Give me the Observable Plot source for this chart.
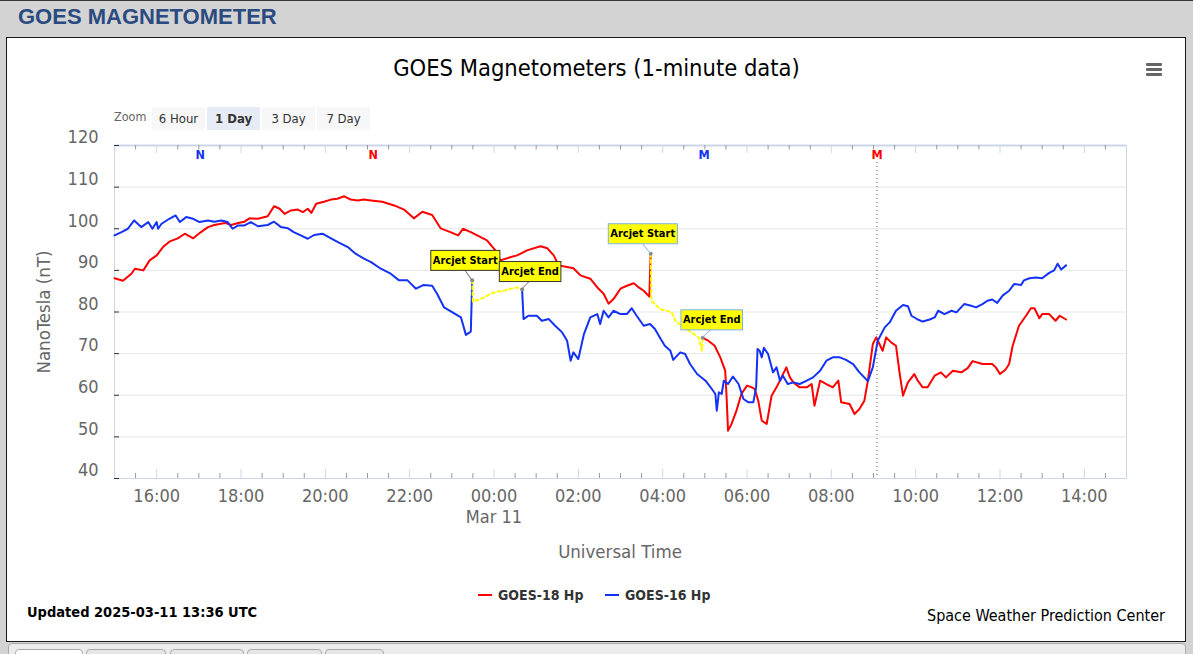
<!DOCTYPE html>
<html><head><meta charset="utf-8">
<script src="https://cdn.jsdelivr.net/npm/d3@7"></script>
<script src="https://cdn.jsdelivr.net/npm/@observablehq/plot@0.6"></script>
<style>
html,body{margin:0;padding:0}
body{width:1193px;height:654px;overflow:hidden;background:#d3d3d3;position:relative;font-family:"DejaVu Sans Condensed","DejaVu Sans",sans-serif;font-stretch:condensed;}
.abs{position:absolute;white-space:nowrap}
#topline{left:0;top:0;width:1193px;height:1px;background:#333}
#hdr{left:18px;top:4px;line-height:28px;font:bold 22px "Liberation Sans",Arial,sans-serif;color:#2a4a80;font-stretch:normal}
#panel{left:6px;top:37px;width:1178px;height:603px;background:#fff;border:1px solid #1a1a1a}
#title{left:0;width:1193px;text-align:center;top:53px;line-height:30px;font-size:23.5px;color:#000}
#menu{left:1146px;top:63px;width:16px}
#menu span{display:block;height:3px;background:#666;margin-bottom:2px;border-radius:1px}
#zoomlab{left:114px;top:109px;line-height:16px;font-size:12.5px;color:#666}
.btn{top:107px;height:23px;width:53px;line-height:23px;text-align:center;font-size:13px;color:#333;background:#f7f7f7}
.btn.sel{background:#e6ebf5;font-weight:bold}
#chart{left:7px;top:130px}
#ylab{left:43px;top:312px;transform:translate(-50%,-50%) rotate(-90deg);font-size:18.5px;color:#666}
#xlab{left:620px;top:551px;transform:translate(-50%,-50%);font-size:18.5px;color:#666}
.leg{top:586px;line-height:18px;font-size:14px;font-weight:bold;color:#333}
.sw{display:inline-block;width:14px;height:2px;vertical-align:middle;margin-right:6px;position:relative;top:-1px}
#updated{left:27px;top:603px;line-height:18px;font-size:14.5px;font-weight:bold;color:#000}
#credit{right:28px;top:607px;line-height:18px;font-size:16px;color:#000}
#tabbox{left:8px;top:643px;width:1176px;height:20px;background:#ececec;border:1px solid #aaa;border-radius:4px}
.tab{top:649px;height:14px;background:#e6e6e6;border:1px solid #aaa;border-radius:4px 4px 0 0}
.tab.on{background:#fff}
</style></head><body>
<div id="topline" class="abs"></div>
<div id="hdr" class="abs">GOES MAGNETOMETER</div>
<div id="panel" class="abs"></div>
<div id="tabbox" class="abs"></div>
<div class="abs tab on" style="left:15px;width:66px"></div>
<div class="abs tab" style="left:86px;width:78px"></div>
<div class="abs tab" style="left:170px;width:72px"></div>
<div class="abs tab" style="left:247px;width:73px"></div>
<div class="abs tab" style="left:325px;width:57px"></div>
<div id="title" class="abs">GOES Magnetometers (1-minute data)</div>
<div id="menu" class="abs"><span></span><span></span><span></span></div>
<div id="zoomlab" class="abs">Zoom</div>
<div class="abs btn" style="left:152px">6 Hour</div>
<div class="abs btn sel" style="left:207px">1 Day</div>
<div class="abs btn" style="left:262px">3 Day</div>
<div class="abs btn" style="left:317px">7 Day</div>
<div id="chart" class="abs"></div>
<div id="ylab" class="abs">NanoTesla (nT)</div>
<div id="xlab" class="abs">Universal Time</div>
<div class="abs leg" style="left:478px"><span class="sw" style="background:#ff0000"></span>GOES-18 Hp</div>
<div class="abs leg" style="left:605px"><span class="sw" style="background:#1432f5"></span>GOES-16 Hp</div>
<div id="updated" class="abs">Updated 2025-03-11 13:36 UTC</div>
<div id="credit" class="abs">Space Weather Prediction Center</div>
<script>
// ---- data (day-of-March + UTC time, nT) ----
const goes18Pre = [["10 15:00",88.1],["10 15:12",87.5],["10 15:24",89.2],["10 15:29",90.4],["10 15:41",90.0],["10 15:50",92.4],["10 16:00",93.6],["10 16:09",95.6],["10 16:18",96.9],["10 16:30",97.7],["10 16:40",98.8],["10 16:52",97.7],["10 17:03",99.2],["10 17:13",100.4],["10 17:22",100.9],["10 17:37",101.4],["10 17:46",100.9],["10 17:56",101.4],["10 18:05",101.7],["10 18:12",102.5],["10 18:24",102.4],["10 18:38",103.0],["10 18:47",105.4],["10 18:55",104.8],["10 19:02",103.6],["10 19:11",104.4],["10 19:21",104.6],["10 19:28",104.0],["10 19:35",104.8],["10 19:40",103.8],["10 19:47",106.0],["10 19:58",106.5],["10 20:08",107.0],["10 20:17",107.2],["10 20:27",107.8],["10 20:36",107.0],["10 20:46",106.8],["10 20:55",107.0],["10 21:05",106.8],["10 21:21",106.5],["10 21:38",105.6],["10 21:52",104.6],["10 22:06",102.5],["10 22:18",104.1],["10 22:32",103.3],["10 22:44",100.1],["10 22:58",99.2],["10 23:09",98.4],["10 23:16",100.0],["10 23:27",99.2],["10 23:41",98.0],["10 23:50",97.2],["11 00:02",94.8],["11 00:09",92.4],["11 00:24",93.2],["11 00:33",93.6],["11 00:47",94.8],["11 01:06",95.8],["11 01:16",95.3],["11 01:25",93.6],["11 01:32",91.2],["11 01:44",90.8],["11 01:53",90.5],["11 02:03",88.8],["11 02:17",88.0],["11 02:27",85.9],["11 02:36",84.4],["11 02:43",82.0],["11 02:50",83.1],["11 03:00",85.6],["11 03:09",86.3],["11 03:19",86.9],["11 03:26",85.9],["11 03:33",85.1],["11 03:41",83.7],["11 03:43",94.0]];
const goes18Arcjet = [["11 03:43",94.0],["11 03:44",82.6],["11 03:47",82.3],["11 03:56",80.7],["11 04:06",80.3],["11 04:13",79.9],["11 04:18",77.9],["11 04:30",76.3],["11 04:41",75.1],["11 04:51",73.9],["11 04:56",70.7],["11 04:57",73.8]];
const goes18Post = [["11 04:57",73.8],["11 05:05",73.1],["11 05:14",71.9],["11 05:22",69.1],["11 05:29",65.9],["11 05:31",59.5],["11 05:33",51.5],["11 05:38",53.1],["11 05:45",56.3],["11 05:52",60.3],["11 06:00",62.3],["11 06:07",61.9],["11 06:11",61.5],["11 06:16",58.7],["11 06:21",53.9],["11 06:28",53.1],["11 06:35",59.9],["11 06:42",61.9],["11 06:49",64.3],["11 06:56",66.7],["11 07:01",64.3],["11 07:06",63.1],["11 07:15",61.9],["11 07:25",61.9],["11 07:32",62.7],["11 07:36",57.5],["11 07:44",63.5],["11 07:53",62.7],["11 08:02",61.9],["11 08:10",63.5],["11 08:14",58.3],["11 08:26",57.9],["11 08:33",55.5],["11 08:40",56.7],["11 08:47",58.7],["11 08:52",63.5],["11 08:59",72.3],["11 09:04",73.9],["11 09:13",70.7],["11 09:18",73.9],["11 09:25",72.7],["11 09:32",71.9],["11 09:37",65.5],["11 09:42",59.9],["11 09:49",63.1],["11 09:58",65.1],["11 10:03",63.5],["11 10:10",61.9],["11 10:17",61.9],["11 10:27",64.7],["11 10:36",65.5],["11 10:43",64.3],["11 10:53",65.9],["11 11:05",65.5],["11 11:14",66.5],["11 11:21",68.2],["11 11:35",67.5],["11 11:49",67.5],["11 11:54",66.7],["11 12:00",65.1],["11 12:08",66.2],["11 12:13",67.5],["11 12:18",71.9],["11 12:27",76.7],["11 12:37",79.1],["11 12:44",80.9],["11 12:49",80.9],["11 12:56",78.5],["11 13:00",79.5],["11 13:10",79.5],["11 13:19",77.9],["11 13:25",79.1],["11 13:34",78.2]];
const goes16Pre = [["10 15:00",98.4],["10 15:10",99.2],["10 15:19",100.0],["10 15:28",102.0],["10 15:38",100.4],["10 15:48",101.6],["10 15:54",100.0],["10 16:00",101.6],["10 16:02",100.0],["10 16:07",101.2],["10 16:18",102.4],["10 16:27",103.2],["10 16:33",101.6],["10 16:42",102.8],["10 16:52",102.4],["10 17:01",101.6],["10 17:13",102.0],["10 17:22",101.7],["10 17:32",102.0],["10 17:41",101.6],["10 17:48",100.0],["10 17:56",100.8],["10 18:05",100.8],["10 18:14",101.6],["10 18:24",100.6],["10 18:38",100.9],["10 18:47",101.7],["10 18:57",100.4],["10 19:07",100.1],["10 19:15",99.2],["10 19:25",98.4],["10 19:35",97.6],["10 19:44",98.5],["10 19:56",98.8],["10 20:08",97.7],["10 20:20",96.6],["10 20:32",95.6],["10 20:43",94.0],["10 20:55",92.8],["10 21:05",92.0],["10 21:19",90.4],["10 21:33",89.2],["10 21:45",87.6],["10 21:57",87.6],["10 22:09",85.6],["10 22:20",86.5],["10 22:32",86.3],["10 22:39",84.4],["10 22:49",81.1],["10 23:01",79.9],["10 23:13",78.7],["10 23:20",74.5],["10 23:27",75.3],["10 23:29",87.6]];
const goes16Arcjet = [["10 23:29",87.6],["10 23:30",82.5],["10 23:34",82.7],["10 23:46",83.5],["10 23:55",84.4],["11 00:05",84.9],["11 00:14",85.1],["11 00:24",85.6],["11 00:33",85.9],["11 00:40",85.4]];
const goes16Post = [["11 00:40",85.4],["11 00:42",78.3],["11 00:49",79.1],["11 01:01",79.1],["11 01:08",77.9],["11 01:18",78.3],["11 01:27",76.7],["11 01:37",75.1],["11 01:44",73.1],["11 01:49",68.3],["11 01:53",70.3],["11 02:00",68.7],["11 02:08",74.7],["11 02:17",78.7],["11 02:27",79.5],["11 02:31",77.1],["11 02:36",80.3],["11 02:43",78.7],["11 02:50",80.3],["11 03:00",79.5],["11 03:09",79.5],["11 03:16",80.9],["11 03:23",79.1],["11 03:33",76.7],["11 03:42",77.1],["11 03:49",75.9],["11 03:56",73.9],["11 04:03",71.9],["11 04:11",70.7],["11 04:15",68.5],["11 04:25",70.3],["11 04:32",69.9],["11 04:39",67.5],["11 04:49",65.1],["11 05:01",63.5],["11 05:10",61.5],["11 05:15",60.3],["11 05:17",56.3],["11 05:20",60.7],["11 05:24",60.3],["11 05:27",63.5],["11 05:33",62.7],["11 05:40",64.5],["11 05:48",62.7],["11 05:55",59.1],["11 06:02",58.3],["11 06:09",58.3],["11 06:13",61.9],["11 06:15",71.1],["11 06:18",70.7],["11 06:21",69.1],["11 06:24",71.4],["11 06:30",69.9],["11 06:37",65.5],["11 06:42",66.7],["11 06:47",63.5],["11 06:51",64.7],["11 06:58",62.7],["11 07:06",63.1],["11 07:15",62.7],["11 07:25",63.5],["11 07:34",64.3],["11 07:44",65.9],["11 07:53",68.3],["11 08:02",69.1],["11 08:12",69.1],["11 08:21",68.5],["11 08:31",67.5],["11 08:40",65.5],["11 08:52",63.4],["11 08:59",66.7],["11 09:06",73.1],["11 09:16",76.3],["11 09:23",77.5],["11 09:32",80.3],["11 09:42",81.7],["11 09:49",81.4],["11 09:54",79.1],["11 10:03",78.2],["11 10:10",77.7],["11 10:20",78.2],["11 10:27",78.7],["11 10:32",80.3],["11 10:41",79.5],["11 10:51",80.3],["11 10:58",79.9],["11 11:09",81.9],["11 11:19",81.5],["11 11:26",81.1],["11 11:35",81.9],["11 11:42",82.7],["11 11:49",83.0],["11 11:56",82.2],["11 12:04",84.0],["11 12:13",85.1],["11 12:20",86.7],["11 12:30",86.5],["11 12:34",87.6],["11 12:42",88.1],["11 12:51",88.3],["11 13:00",88.1],["11 13:10",89.4],["11 13:17",90.0],["11 13:22",91.6],["11 13:27",90.2],["11 13:34",91.2]];

const noteTimes  = ["10 23:29","11 00:40","11 03:43","11 04:57"];
const noteValues = [87.6, 85.4, 94.0, 73.8];
const noteLabels = ["Arcjet Start","Arcjet End","Arcjet Start","Arcjet End"];
const noteSats   = ["GOES-16","GOES-16","GOES-18","GOES-18"];

const eventTimes  = ["10 17:02","10 21:08","11 04:59","11 09:05"];
const eventLabels = ["N","N","M","M"];
const eventSats   = ["GOES-16","GOES-18","GOES-16","GOES-18"];

const yTickValues = [40,50,60,70,80,90,100,110,120];
const xStart = "10 15:00", xEnd = "11 15:00";

// ---- styles ----
const satColor = {"GOES-18":"#ff0000","GOES-16":"#1432f5"};
const noteBorder = {"GOES-16":"#333333","GOES-18":"#7fb2e8"};
const noteLink = {"GOES-16":"#666666","GOES-18":"#7fb2e8"};
const noteOffsets = [[-7,-20],[8,-18],[-8,-20],[9,-18]];
const FONT = '"DejaVu Sans Condensed","DejaVu Sans",sans-serif';

const parse = s => new Date(`2025-03-${s.slice(0,2)}T${s.slice(3)}:00Z`);
const rows = arr => arr.map(([t,v]) => ({time: parse(t), value: v}));
const x0 = parse(xStart), x1 = parse(xEnd);
const majorTicks = d3.utcHour.every(2).range(x0, x1);
const minorTicks = d3.utcMinute.every(30).range(new Date(+x0 + 1), x1).filter(d => d.getUTCMinutes() !== 0 || d.getUTCHours() % 2 !== 0);
const notes = noteTimes.map((t,i) => ({time: parse(t), value: noteValues[i], label: noteLabels[i], sat: noteSats[i]}));
const events = eventTimes.map((t,i) => ({time: parse(t), label: eventLabels[i], sat: eventSats[i]}));
const fmt = d3.utcFormat("%H:%M");

const W = 1178, H = 410, ML = 107, MR = 59, MT = 15, MB = 62;
const PW = W - ML - MR, PH = H - MT - MB;

const chart = Plot.plot({
  width: W, height: H, marginLeft: ML, marginRight: MR, marginTop: MT, marginBottom: MB,
  style: {fontFamily: FONT, background: "transparent", overflow: "visible"},
  x: {type: "utc", domain: [x0, x1]},
  y: {domain: [40, 120]},
  marks: [
    Plot.ruleY(yTickValues.filter(d => d > 40 && d < 120), {stroke: "#e6e6e6"}),
    Plot.frame({stroke: "#ccd6eb"}),
    Plot.ruleY([120], {stroke: "#ccd6eb", strokeWidth: 2}),
    Plot.tickY(yTickValues, {y: d => d, insetRight: PW - 5, stroke: "#333"}),
    Plot.tickX(majorTicks, {x: d => d, insetTop: PH - 9, stroke: "#ccd6eb"}),
    Plot.tickX(majorTicks, {x: d => d, insetBottom: PH - 8, stroke: "#ccd6eb"}),
    Plot.tickX(minorTicks, {x: d => d, insetTop: PH - 5, stroke: "#999"}),
    Plot.tickX(minorTicks, {x: d => d, insetBottom: PH - 4.5, stroke: "#999"}),
    Plot.axisY({ticks: yTickValues, tickSize: 0, tickPadding: 16, dy: -8, fontSize: 18, fill: "#666", label: null}),
    Plot.axisX({ticks: majorTicks, tickSize: 0, tickPadding: 9, fontSize: 18, fill: "#666", label: null, lineHeight: 1.15,
      tickFormat: d => fmt(d) + (d.getUTCHours() === 0 ? "\nMar 11" : "")}),
    Plot.ruleX(events.filter(d => d.sat === "GOES-18" && d.label === "M"), {x: "time", insetTop: 17, stroke: "#555", strokeDasharray: "1,3"}),
    Plot.text(events, {x: "time", text: "label", frameAnchor: "top", dy: 5, fill: d => satColor[d.sat], fontWeight: "bold", fontSize: 12.5}),
    Plot.line(rows(goes18Pre), {x: "time", y: "value", stroke: satColor["GOES-18"], strokeWidth: 2}),
    Plot.line(rows(goes18Post), {x: "time", y: "value", stroke: satColor["GOES-18"], strokeWidth: 2}),
    Plot.line(rows(goes16Pre), {x: "time", y: "value", stroke: satColor["GOES-16"], strokeWidth: 2}),
    Plot.line(rows(goes16Post), {x: "time", y: "value", stroke: satColor["GOES-16"], strokeWidth: 2}),
    Plot.line(rows(goes18Arcjet), {x: "time", y: "value", stroke: "#ffff00", strokeWidth: 2, strokeDasharray: "3,3"}),
    Plot.line(rows(goes16Arcjet), {x: "time", y: "value", stroke: "#ffff00", strokeWidth: 2, strokeDasharray: "3,3"}),
    Plot.dot(notes, {x: "time", y: "value", r: 2, fill: "#8a8a8a"}),
    Plot.text(notes, {x: "time", y: "value", text: "label", fontSize: 11, fontWeight: "bold", fill: "#000"})
  ]
});
document.getElementById("chart").append(chart);

// box each note label, shift it by its offset, and draw a connector to its point
(function(){
  const ns = "http://www.w3.org/2000/svg";
  const sx = chart.scale("x"), sy = chart.scale("y");
  const texts = Array.from(chart.querySelectorAll("text")).filter(t => noteLabels.includes(t.textContent));
  if (!texts.length) return;
  const first = texts[0].parentNode;
  const linkG = document.createElementNS(ns, "g");
  first.parentNode.insertBefore(linkG, first);
  texts.forEach((t, i) => {
    const [dx, dy] = noteOffsets[i];
    const px = sx.apply(notes[i].time), py = sy.apply(notes[i].value);
    const wrap = document.createElementNS(ns, "g");
    wrap.setAttribute("transform", `translate(${dx},${dy})`);
    t.parentNode.insertBefore(wrap, t);
    wrap.appendChild(t);
    const b = t.getBBox();
    const rect = document.createElementNS(ns, "rect");
    const padX = 2, padY = 3.5;
    rect.setAttribute("x", b.x - padX); rect.setAttribute("y", b.y - padY);
    rect.setAttribute("width", b.width + 2*padX); rect.setAttribute("height", b.height + 2*padY);
    if (t.getAttribute("transform")) rect.setAttribute("transform", t.getAttribute("transform"));
    rect.setAttribute("fill", "#ffff00");
    rect.setAttribute("stroke", noteBorder[notes[i].sat]);
    rect.setAttribute("stroke-width", 1);
    wrap.insertBefore(rect, t);
    const h = b.height + 2*padY;
    const line = document.createElementNS(ns, "line");
    line.setAttribute("x1", px + dx); line.setAttribute("y1", py + dy + h/2);
    line.setAttribute("x2", px); line.setAttribute("y2", py);
    line.setAttribute("stroke", noteLink[notes[i].sat]);
    line.setAttribute("stroke-width", 1);
    linkG.appendChild(line);
  });
})();
</script>
</body></html>
